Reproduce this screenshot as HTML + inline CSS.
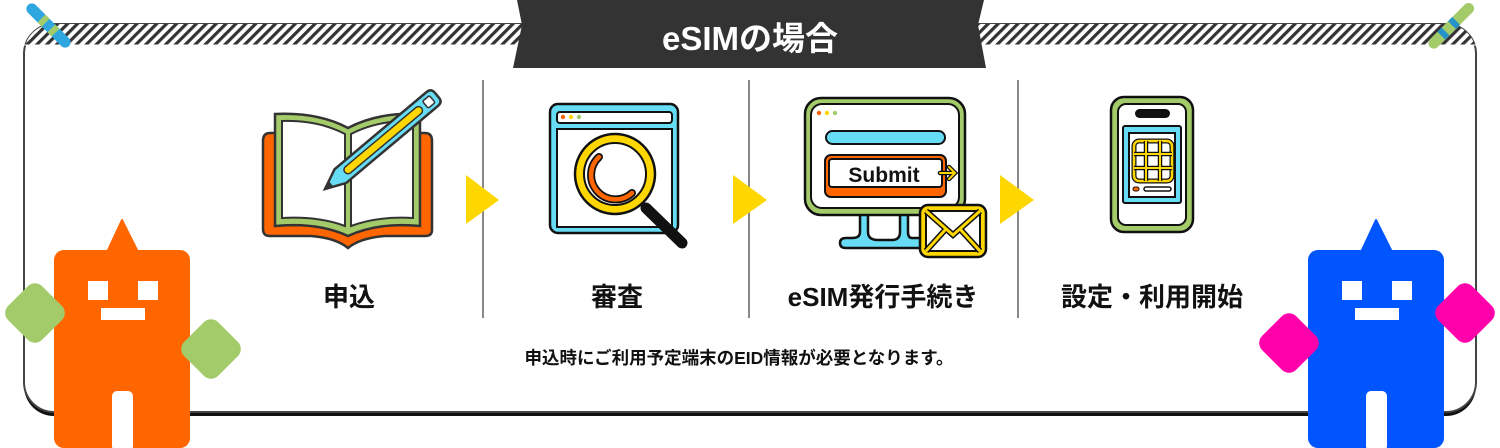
<!DOCTYPE html>
<html><head><meta charset="utf-8"><style>
html,body{margin:0;padding:0;background:#fff;}
svg{display:block;}
text{font-family:"Liberation Sans","Noto Sans CJK JP",sans-serif;font-weight:bold;}
</style></head><body>
<svg width="1500" height="448" viewBox="0 0 1500 448" xmlns="http://www.w3.org/2000/svg">
<defs>
<pattern id="hatch" patternUnits="userSpaceOnUse" width="7" height="7" patternTransform="rotate(45)">
<rect width="7" height="7" fill="#fff"/><rect width="3.2" height="7" fill="#333"/>
</pattern>
<clipPath id="cardclip"><rect x="24" y="24" width="1452" height="390" rx="30"/></clipPath>
</defs>
<rect x="24" y="27" width="1452" height="389" rx="30" fill="#111"/>
<rect x="24" y="24" width="1452" height="388" rx="30" fill="#fff" stroke="#444" stroke-width="2"/>
<g clip-path="url(#cardclip)"><rect x="24" y="24" width="1452" height="21" fill="url(#hatch)"/></g>
<line x1="24" y1="45" x2="1476" y2="45" stroke="#fff" stroke-width="1"/>
<polygon points="517,0 984,0 978,25 986,68 513,68 522,25" fill="#333"/>
<text x="750" y="50" text-anchor="middle" font-size="33" fill="#fff">eSIMの場合</text>
<g transform="translate(28,5) rotate(45)">
<rect x="0" y="-5.5" width="58" height="11" rx="5.5" fill="#2EA7E0"/>
<rect x="19" y="-5.5" width="6" height="11" fill="#A3CB6A"/>
<rect x="33" y="-5.5" width="6" height="11" fill="#A3CB6A"/>
</g>
<g transform="translate(1430,47) rotate(-45)">
<rect x="0" y="-5.5" width="60" height="11" rx="5.5" fill="#A3CB6A"/>
<rect x="16" y="-5.5" width="6" height="11" fill="#2592C8"/>
<rect x="31" y="-5.5" width="6" height="11" fill="#2592C8"/>
</g>
<g stroke="#888" stroke-width="2"><line x1="483" y1="80" x2="483" y2="318"/><line x1="749" y1="80" x2="749" y2="318"/><line x1="1018" y1="80" x2="1018" y2="318"/></g>
<g fill="#FFD700"><polygon points="466,175 499,200 466,224"/><polygon points="733,175 767,200 733,224"/><polygon points="1000,175 1034,200 1000,224"/></g>
<!-- book -->
<path d="M270,133 H425 Q432,133 432,141 V230 Q432,236 425,236 H385 Q360,238 348,248 Q336,238 311,236 H270 Q263,236 263,229 V141 Q263,133 270,133 Z" fill="#FF6600" stroke="#333" stroke-width="2.5"/>
<path d="M275,114 Q318,112 348,128 Q378,112 420,114 V226 Q378,222 348,236 Q318,222 275,226 Z" fill="#A3CB6A" stroke="#333" stroke-width="2.5"/>
<path d="M282,121 Q318,120 345,134 V226 Q318,216 282,218 Z M351,134 Q378,120 413,121 V218 Q378,216 351,226 Z" fill="#fff" stroke="#333" stroke-width="2"/>
<g transform="translate(325,189) rotate(-40)">
<path d="M0,0 L20,-9 H140 Q146,-9 146,-3 V3 Q146,9 140,9 H20 Z" fill="#66DDF5" stroke="#333" stroke-width="2.5"/>
<path d="M0,0 L8,-3.5 V3.5 Z" fill="#333"/>
<rect x="26" y="-4" width="100" height="8" rx="4" fill="#FFD700" stroke="#333" stroke-width="1.5"/>
<rect x="131" y="-4.5" width="9" height="9" rx="1.5" fill="#fff" stroke="#333" stroke-width="1.5"/>
</g>
<!-- browser magnifier -->
<rect x="550" y="104" width="128" height="129" rx="8" fill="#66DDF5" stroke="#111" stroke-width="2.5"/>
<rect x="557" y="112" width="115" height="11" rx="3" fill="#fff" stroke="#111" stroke-width="2"/>
<circle cx="563" cy="117" r="2.2" fill="#FF6600"/><circle cx="571" cy="117" r="2.2" fill="#FFD700"/><circle cx="579" cy="117" r="2.2" fill="#A3CB6A"/>
<rect x="557" y="129" width="115" height="98" fill="#fff" stroke="#111" stroke-width="2"/>
<line x1="646" y1="208" x2="682" y2="243" stroke="#111" stroke-width="11" stroke-linecap="round"/>
<circle cx="615" cy="174" r="40" fill="#FFD700" stroke="#111" stroke-width="2.5"/>
<circle cx="615" cy="174" r="31" fill="#fff" stroke="#111" stroke-width="2"/>
<path d="M599,157 A24,24 0 1 0 632,193" fill="none" stroke="#111" stroke-width="8" stroke-linecap="round"/>
<path d="M599,157 A24,24 0 1 0 632,193" fill="none" stroke="#FF6600" stroke-width="4.5" stroke-linecap="round"/>
<!-- monitor stand -->
<path d="M860,212 V232 Q860,238 852,238 H846 Q840,238 840,243 Q840,248 846,248 H925 V238 H912 Q908,238 908,232 V212 Z" fill="#66DDF5" stroke="#111" stroke-width="2.5"/>
<path d="M868,212 V232 Q868,240 878,240 H892 Q900,240 900,232 V212" fill="#fff" stroke="#111" stroke-width="2.5"/>
<rect x="805" y="98" width="160" height="117" rx="16" fill="#A3CB6A" stroke="#111" stroke-width="2.5"/>
<rect x="811" y="104" width="148" height="104" rx="11" fill="#fff" stroke="#111" stroke-width="2"/>
<circle cx="819" cy="113" r="2.2" fill="#FF6600"/><circle cx="827" cy="113" r="2.2" fill="#FFD700"/><circle cx="835" cy="113" r="2.2" fill="#A3CB6A"/>
<rect x="826" y="131" width="119" height="13" rx="6.5" fill="#66DDF5" stroke="#111" stroke-width="2"/>
<rect x="825" y="155" width="121" height="42" rx="6" fill="#FF6600" stroke="#111" stroke-width="2"/>
<rect x="829" y="159" width="113" height="28" rx="3" fill="#fff" stroke="#111" stroke-width="2"/>
<text x="884" y="182" text-anchor="middle" font-size="21" fill="#111" font-family="'DejaVu Sans',sans-serif">Submit</text>
<path d="M940,173 H955 M949,167 L955,173 L949,179" fill="none" stroke="#111" stroke-width="4.5" stroke-linecap="round"/>
<path d="M940,173 H955 M949,167 L955,173 L949,179" fill="none" stroke="#FFD700" stroke-width="2" stroke-linecap="round"/>
<rect x="920" y="205" width="66" height="52" rx="8" fill="#FFD700" stroke="#111" stroke-width="2.5"/>
<rect x="926" y="211" width="54" height="40" rx="2" fill="#fff" stroke="#111" stroke-width="2"/>
<path d="M926,211 L953,235 L980,211 M926,251 L946,229 M980,251 L960,229" fill="none" stroke="#111" stroke-width="6"/>
<path d="M926,211 L953,235 L980,211 M926,251 L946,229 M980,251 L960,229" fill="none" stroke="#FFD700" stroke-width="3"/>
<!-- phone -->
<rect x="1111" y="97" width="82" height="135" rx="13" fill="#A3CB6A" stroke="#111" stroke-width="2.5"/>
<rect x="1118" y="104" width="68" height="121" rx="8" fill="#fff" stroke="#111" stroke-width="2"/>
<rect x="1135" y="109" width="35" height="9" rx="4.5" fill="#111"/>
<rect x="1123" y="126" width="58" height="77" rx="2" fill="#66DDF5" stroke="#111" stroke-width="2"/>
<rect x="1129" y="133" width="46" height="64" fill="#fff" stroke="#111" stroke-width="2"/>
<rect x="1134" y="141" width="38" height="40" rx="5" fill="none" stroke="#111" stroke-width="5"/>
<rect x="1134" y="141" width="38" height="40" rx="5" fill="none" stroke="#FFD700" stroke-width="2.5"/>
<g stroke="#111" stroke-width="4.5"><line x1="1146" y1="141" x2="1146" y2="181"/><line x1="1160" y1="141" x2="1160" y2="181"/><line x1="1134" y1="154" x2="1172" y2="154"/><line x1="1134" y1="168" x2="1172" y2="168"/></g>
<g stroke="#FFD700" stroke-width="2"><line x1="1146" y1="141" x2="1146" y2="181"/><line x1="1160" y1="141" x2="1160" y2="181"/><line x1="1134" y1="154" x2="1172" y2="154"/><line x1="1134" y1="168" x2="1172" y2="168"/></g>
<rect x="1133" y="187" width="6" height="4" rx="2" fill="#FF6600" stroke="#111" stroke-width="1"/>
<rect x="1144" y="187" width="27" height="4" rx="2" fill="#fff" stroke="#111" stroke-width="1.5"/>
<!-- labels -->
<g font-size="26" fill="#111" text-anchor="middle">
<text x="349" y="306">申込</text>
<text x="617" y="306">審査</text>
<text x="883" y="306">eSIM発行手続き</text>
<text x="1152" y="306">設定・利用開始</text>
</g>
<text x="739" y="364" text-anchor="middle" font-size="17.5" fill="#111">申込時にご利用予定端末のEID情報が必要となります。</text>
<!-- orange robot -->
<g>
<polygon points="122,220 108,250 137,250" fill="#FF6600" stroke="#FF6600" stroke-width="2" stroke-linejoin="round"/>
<rect x="54" y="250" width="136" height="198" rx="10" fill="#FF6600"/>
<rect x="112" y="391" width="21" height="60" rx="5" fill="#fff"/>
<rect x="88" y="281" width="20" height="19" fill="#fff"/><rect x="138" y="281" width="20" height="19" fill="#fff"/>
<rect x="101" y="308" width="44" height="12" fill="#fff"/>
<rect x="11" y="289" width="48" height="48" rx="10" fill="#A3CB6A" transform="rotate(45 35 313)"/>
<rect x="187" y="325" width="48" height="48" rx="10" fill="#A3CB6A" transform="rotate(45 211 349)"/>
</g>
<!-- blue robot -->
<g>
<polygon points="1376,220 1362,250 1391,250" fill="#0055FF" stroke="#0055FF" stroke-width="2" stroke-linejoin="round"/>
<rect x="1308" y="250" width="136" height="198" rx="10" fill="#0055FF"/>
<rect x="1366" y="391" width="21" height="60" rx="5" fill="#fff"/>
<rect x="1342" y="281" width="20" height="19" fill="#fff"/><rect x="1392" y="281" width="20" height="19" fill="#fff"/>
<rect x="1355" y="308" width="44" height="12" fill="#fff"/>
<rect x="1265" y="319" width="48" height="48" rx="10" fill="#FF00AA" transform="rotate(45 1289 343)"/>
<rect x="1441" y="289" width="48" height="48" rx="10" fill="#FF00AA" transform="rotate(45 1465 313)"/>
</g>
</svg>
</body></html>
